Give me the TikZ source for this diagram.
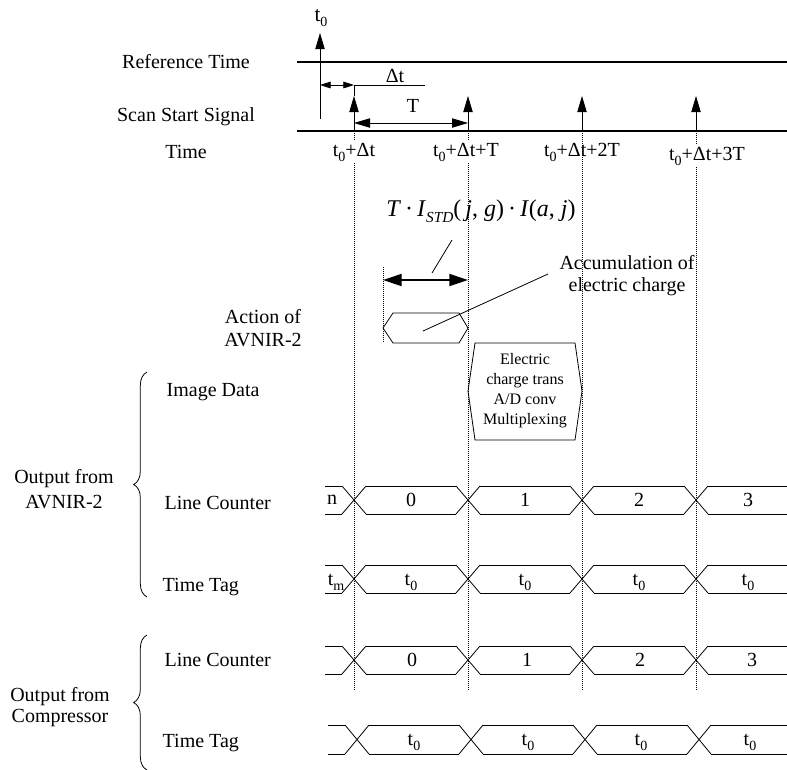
\documentclass[tikz,border=0pt]{standalone}
\usepackage{fontspec}
\setmainfont{Liberation Serif}
\usetikzlibrary{arrows.meta,decorations.pathreplacing}

\newcommand{\lsub}[1]{\raisebox{-0.55ex}{\fontsize{10.5}{11}\selectfont #1}}

\begin{document}
\begin{tikzpicture}[x=0.75pt, y=-0.75pt, >={Triangle[length=12pt,width=7pt]},
  font=\fontsize{15}{17}\selectfont,
  guide/.style={densely dotted, line width=0.5pt},
  bus/.style={line width=0.6pt},
  tlabel/.style={fill=white, inner sep=1pt},
  smallhead/.style={{Triangle[length=8pt,width=5pt]}-{Triangle[length=8pt,width=5pt]}},
  lbrace/.style={decorate, decoration={brace, amplitude=10pt}, line width=0.6pt}]
\useasboundingbox (0,0) rectangle (787,769);

% time axes
\draw[line width=0.9pt] (297,62) -- (787,62);
\draw[line width=0.9pt] (297,131) -- (787,131);
\node (reftime) at (186,62) {Reference Time};
\node (scansig) at (186,117) {Scan Start Signal};
\node (timelbl) at (186,152) {Time};

% guide lines through all rows
\foreach \x in {354,468,582,696}
  \draw[guide] (\x,131) -- (\x,690);

% t0 and scan start pulses
\draw[->, line width=0.6pt] (320,119) -- (320,33);
\node (tzero) at (321,18) {\fontsize{16}{17}\selectfont t\lsub{0}};
\foreach \x in {354,468,582,696}
  \draw[->, line width=0.6pt] (\x,131) -- (\x,96);
\draw[line width=0.6pt] (354,96) -- (354,85) -- (425,85);
\draw[smallhead, line width=0.6pt] (320,85) -- (354,85);
\node (dt) at (395,76) {Δt};
\draw[<->, line width=0.6pt] (354,123) -- (468,123);
\node (tper) at (413,106) {T};

\node[tlabel] (s0) at (354,152) {t\lsub{0}+Δt};
\node[tlabel] (s1) at (466,152) {t\lsub{0}+Δt+T};
\node[inner sep=1pt] (s2) at (582,152) {t\lsub{0}+Δt+2T};
\node[tlabel] (s3) at (707,156) {t\lsub{0}+Δt+3T};

% integration of AVNIR-2
\node (formula) at (481,211) {\fontsize{18}{20}\selectfont \textit{T}\,·\,\textit{I}\raisebox{-0.55ex}{\fontsize{11.5}{12}\selectfont\textit{STD}}(\,\textit{j}, \textit{g})\,·\,\textit{I}(\textit{a}, \textit{j})};
\draw[guide] (383,267) -- (383,343);
\draw[line width=1.4pt, {Triangle[length=14pt,width=9pt]}-{Triangle[length=14pt,width=9pt]}] (383,280) -- (468,280);
\draw[line width=0.6pt] (452,240) -- (432,273);
\draw[line width=0.6pt] (383,328) -- (393,313) -- (459,313) -- (468,328) -- (459,343) -- (393,343) -- cycle;
\node[align=center, font=\fontsize{15}{16.5}\selectfont] (accum) at (627,276) {Accumulation of\\electric charge};
\draw[line width=0.6pt] (548,274) -- (423,331);
\node[align=center] (action) at (263,328) {Action of\\AVNIR-2};

% transfer block
\draw[line width=0.6pt] (468,391) -- (475,343) -- (575,343) -- (582,391) -- (575,440) -- (475,440) -- cycle;
\node[align=center, font=\fontsize{12}{15}\selectfont] (xfer) at (525,391) {Electric\\charge trans\\A/D conv\\Multiplexing};

% output groups
\draw[lbrace] (147,597) -- (147,372);
\node[align=center, font=\fontsize{15}{18.5}\selectfont] (outav) at (64,489) {Output from\\AVNIR-2};
\node[anchor=west] (imgdata) at (162,392) {Image Data};
\node[anchor=west] (lcav) at (160,503) {Line Counter};
\node[anchor=west] (ttav) at (158,587) {Time Tag};
\draw[lbrace] (147,770) -- (147,635);
\node[align=center, font=\fontsize{15}{16}\selectfont] (outcp) at (60,707) {Output from\\Compressor};
\node[anchor=west] (lccp) at (160,660) {Line Counter};
\node[anchor=west] (ttcp) at (158,743) {Time Tag};

% bus rows
\foreach \tp/\bt/\of in {486/514/0, 565/593/0, 646/674/0, 725/754/3} {
  \draw[bus] (325+\of,\tp) -- (342+\of,\tp) (325+\of,\bt) -- (342+\of,\bt);
  \foreach \c in {354,468,582,696}
    \draw[bus] (\c-12+\of,\tp) -- (\c+12+\of,\bt) (\c-12+\of,\bt) -- (\c+12+\of,\tp);
  \foreach \a/\b in {366/456,480/570,594/684,708/787}
    \draw[bus] (\a+\of,\tp) -- (\b+\of,\tp) (\a+\of,\bt) -- (\b+\of,\bt);
}
\node (lca) at (332,500) {n};
\node (lc0) at (411,500) {0};
\node (lc1) at (525,500) {1};
\node (lc2) at (639,500) {2};
\node (lc3) at (748,500) {3};
\node (tta) at (336,582) {t\lsub{m}};
\node (tt0) at (411,582) {t\lsub{0}};
\node (tt1) at (525,582) {t\lsub{0}};
\node (tt2) at (639,582) {t\lsub{0}};
\node (tt3) at (748,582) {t\lsub{0}};
\node (cc0) at (412,660) {0};
\node (cc1) at (527,660) {1};
\node (cc2) at (640,660) {2};
\node (cc3) at (752,660) {3};
\node (ct0) at (414,742) {t\lsub{0}};
\node (ct1) at (528,742) {t\lsub{0}};
\node (ct2) at (641,742) {t\lsub{0}};
\node (ct3) at (750,742) {t\lsub{0}};
\end{tikzpicture}
\end{document}
